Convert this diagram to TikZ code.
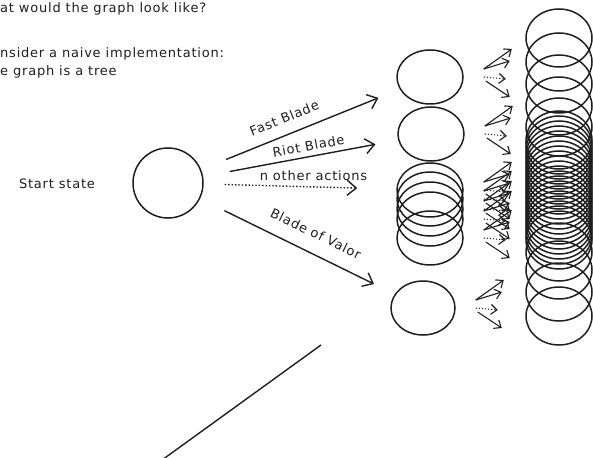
\documentclass[tikz,border=0pt]{standalone}
\usepackage{fontspec}
\setmainfont{DejaVu Sans}[LetterSpace=6]
\usetikzlibrary{arrows.meta, positioning, shapes.geometric}
\definecolor{inkgray}{RGB}{30,30,30}
\tikzset{
  state/.style={ellipse, draw=inkgray, line width=1.5pt, minimum width=#1,
                minimum height=54pt, inner sep=0pt},
  state/.default=66pt,
  act/.style={-{Straight Barb[length=9pt, width=15pt]}, line width=1.4pt, draw=inkgray,
              shorten <=27pt, shorten >=23pt},
  subact/.style={-{Straight Barb[length=6pt, width=10pt]}, line width=1.1pt, draw=inkgray},
  note/.style={font=\fontsize{13}{18}\selectfont, text=inkgray, inner sep=0pt},
}

\begin{document}
\begin{tikzpicture}[x=1pt, y=-1pt]
  \useasboundingbox (0,0) rectangle (593,457);
  % question
  \node[note, anchor=west] (q1) at (0,9) {at would the graph look like?};
  \node[note, anchor=west, align=left] (q2) at (0,63) {nsider a naive implementation:\\e graph is a tree};

  % start state
  \node[note] (startlbl) at (57,184) {Start state};
  \node[state=70pt, minimum height=70pt] (start) at (168,183) {};

  % first level
  \node[state] (fast) at (430,77) {};
  \node[state] (riot) at (431,134) {};
  \foreach \y [count=\i] in {190,199,209,219,238}
    \node[state] (o\i) at (430,\y) {};
  \node[state=64pt] (valor) at (423,308) {};

  \draw[act] (start) -- node[note, sloped, above=11pt, pos=0.45] {Fast Blade} (fast);
  \draw[act] (start) -- node[note, sloped, above=5pt, pos=0.55] {Riot Blade} (riot);
  \draw[act, dotted, shorten <=21pt, shorten >=39pt] (start) -- node[note, above=6pt, pos=0.57] {n other actions} (o1);
  \draw[act] (start) -- node[note, sloped, above=14pt, pos=0.55] {Blade of Valor} (valor);

  % second level
  \foreach \n in {fast,riot,o1,o2,o3,o4,o5,valor} {
    \draw[subact] (\n.east) ++(20,-8) -- ++(28,-20);
    \draw[subact] (\n.east) ++(20,-8) -- ++(26,-8);
    \draw[subact, dotted] (\n.east) ++(20,0) -- ++(22,2);
    \draw[subact] (\n.east) ++(22,4) -- ++(24,16);
  }
  \foreach \y [count=\i] in {38,62,84,106,127,252,270,292,316}
    \node[state=66pt, minimum height=58pt] (r\i) at (559,\y) {};
  \foreach \y [count=\i] in {140,145,...,240}
    \node[state=66pt, minimum height=58pt] (s\i) at (559,\y) {};

  % stray stroke
  \coordinate (strokeA) at (321,345);
  \coordinate (strokeB) at (162,460);
  \draw[line width=1.4pt, draw=inkgray] (strokeA) -- (strokeB);
\end{tikzpicture}
\end{document}
